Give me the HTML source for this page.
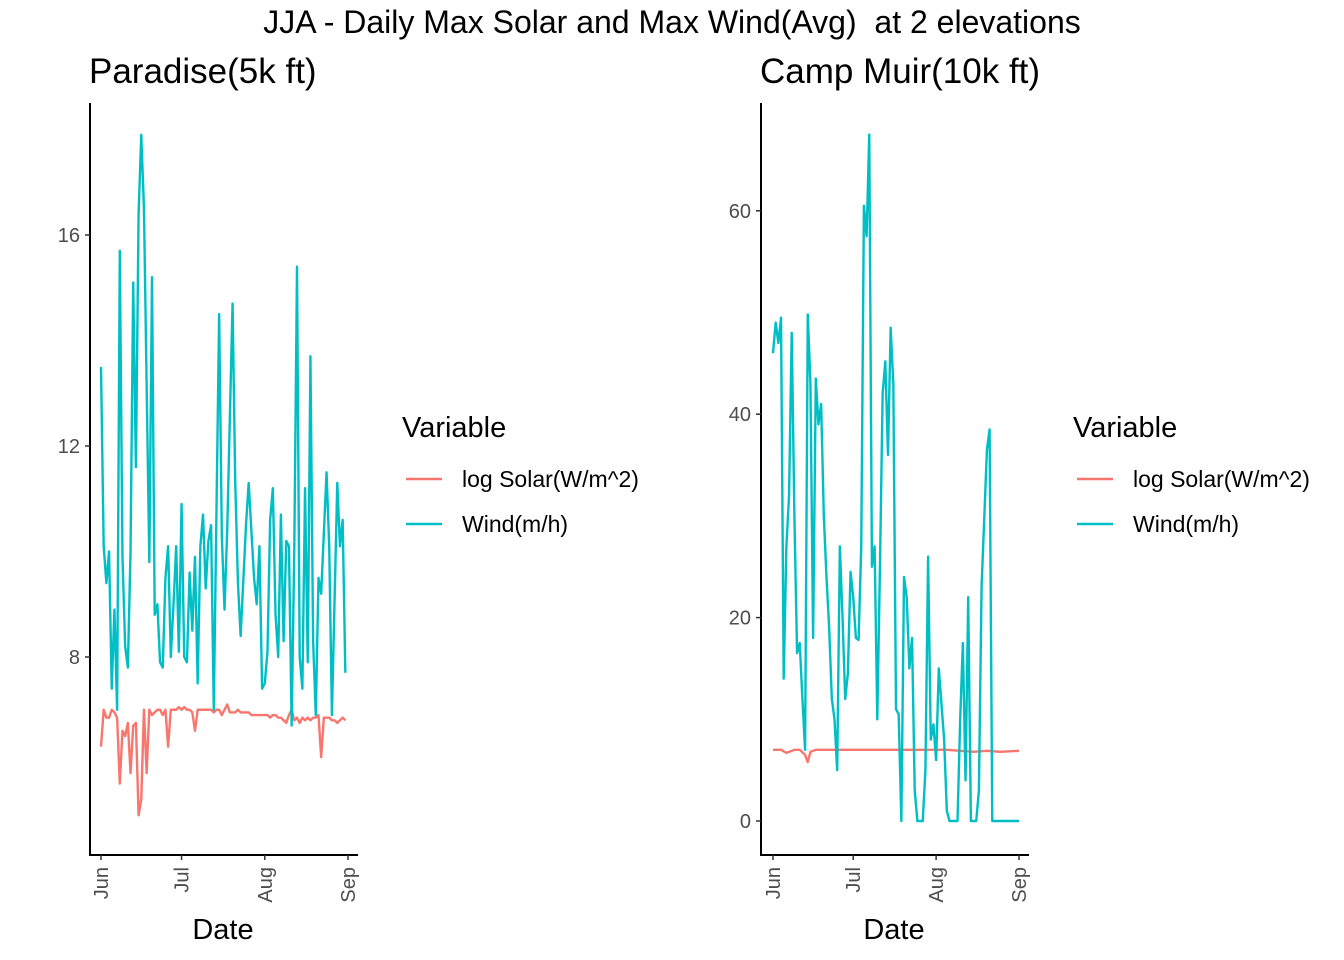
<!DOCTYPE html>
<html><head><meta charset="utf-8"><style>
html,body{margin:0;padding:0;background:#fff;width:1344px;height:960px;overflow:hidden}
svg{font-family:"Liberation Sans",Arial,sans-serif}
</style></head><body>
<svg id="chart" width="1344" height="960">
<text x="672" y="33" font-size="32" text-anchor="middle" fill="#000" style="white-space:pre" xml:space="preserve">JJA - Daily Max Solar and Max Wind(Avg)  at 2 elevations</text>
</svg>
<script>
// Paradise (left) data: day offset from Jun 1
const pWindDays=[0,1,2,3,4,5,6,7,8,9,10,11,12,13,14,15,16,18,19,20,21,22,23,24,25,26,27,28,29,30,31,32,33,34,35,36,37,38,39,40,41,42,44,45,46,47,49,50,51,52,54,55,56,57,58,59,60,61,62,63,64,65,66,67,68,69,70,71,72,73,74,75,76,77,78,79,80,81,82,84,85,86,88,89,90,91];
const pWind=[13.5,10.1,9.4,10.0,7.4,8.9,7.0,15.7,9.9,8.2,7.8,10.0,15.1,11.6,16.4,17.9,16.5,9.8,15.2,8.8,9.0,7.9,7.8,9.5,10.1,8.0,9.0,10.1,8.1,10.9,8.0,7.9,9.6,8.5,9.9,7.5,10.1,10.7,9.3,10.2,10.5,7.0,14.5,10.3,8.9,10.4,14.7,11.3,9.4,8.4,10.5,11.3,10.4,9.5,9.0,10.1,7.4,7.5,8.1,10.6,11.2,8.8,8.0,10.7,8.3,10.2,10.1,6.7,10.1,15.4,8.0,7.4,11.2,7.9,13.7,8.3,6.9,9.5,9.2,11.5,10.1,6.9,11.3,10.1,10.6,7.7];
const pSolarDays=[0,1,2,3,4,5,6,7,8,9,10,11,12,13,14,15,16,17,18,19,20,21,22,23,24,25,26,27,28,29,30,31,32,33,34,35,36,37,38,39,40,41,42,43,44,45,46,47,48,49,50,51,52,53,54,55,56,57,58,59,60,61,62,63,64,65,66,67,68,69,70,71,72,73,74,75,76,77,78,79,80,81,82,83,84,85,86,87,88,89,90,91];
const pSolar=[6.3,7.0,6.85,6.85,7.0,6.95,6.85,5.6,6.6,6.5,6.75,5.8,6.7,6.75,5.0,5.3,7.0,5.8,7.0,6.9,6.95,7.0,7.0,6.9,7.0,6.3,7.0,7.0,7.0,7.05,7.0,7.05,7.0,7.0,6.95,6.6,7.0,7.0,7.0,7.0,7.0,7.0,6.95,7.0,7.0,6.9,7.0,7.1,6.95,6.95,6.95,7.0,6.95,6.95,6.95,6.95,6.9,6.9,6.9,6.9,6.9,6.9,6.9,6.85,6.9,6.9,6.85,6.85,6.8,6.75,6.9,7.0,6.8,6.85,6.75,6.85,6.8,6.85,6.8,6.85,6.85,6.9,6.1,6.85,6.85,6.85,6.8,6.8,6.75,6.8,6.85,6.8];
// Camp Muir (right)
const mWindDays=[0,1,2,3,4,5,6,7,8,9,10,11,12,13,14,15,16,17,18,19,20,21,22,23,24,25,26,27,28,29,30,31,32,33,34,35,36,37,38,39,40,41,42,43,44,45,46,47,48,49,50,51,52,53,54,55,56,57,58,59,60,61,62,64,65,66,67,68,69,70,71,72,73,74,75,76,77,78,80,81,82,83,84,85,86,87,88,89,90,91,92];
const mWind=[46,49,47,49.5,14,27,32,48,30,16.5,17.5,12,7,49.8,43,18,43.5,39,41,30,24,19,12,10,5,27,20,12,14.5,24.5,22,18,17.8,27,60.5,57.5,67.5,25,27,10,25,42,45.2,36,48.5,43,11,10.5,0,24,22,15,18,3,0,0,0,5,26,8,9.5,6,15,8,1,0,0,0,0,10,17.5,4,22,0,0,0,3,23,36.5,38.5,0,0,0,0,0,0,0,0,0,0,0];
const mSolarDays=[0,3,5,8,10,12,13,14,16,20,30,40,50,60,65,70,75,80,85,92];
const mSolar=[7.0,7.0,6.7,7.0,7.0,6.5,5.8,6.8,7.0,7.0,7.0,7.0,7.0,7.0,7.0,6.9,6.8,6.9,6.8,6.9];
const yTicksP=[8,12,16];
const yTicksM=[0,20,40,60];
const xTickDays=[0,30,61,92];
const xTickLabels=["Jun","Jul","Aug","Sep"];
const legendLabels=["log Solar(W/m^2)","Wind(m/h)"];
const colors=["#F8766D","#00BFC4"];

const NS="http://www.w3.org/2000/svg";
const svg=document.getElementById('chart');
function mk(tag,attrs,parent){const e=document.createElementNS(NS,tag);for(const k in attrs)e.setAttribute(k,attrs[k]);(parent||svg).appendChild(e);return e;}

function panel(cfg){
  const g=mk('g',{});
  
  
  const xs=d=>cfg.x0+d*cfg.dx;
  const ys=v=>cfg.yRef-(v-cfg.vRef)*cfg.dy;
  const t=mk('text',{x:cfg.axX-1,y:83,'font-size':35,fill:'#000'},g);t.textContent=cfg.title;
  
  
  const ya=mk('line',{x1:cfg.axX,y1:103,x2:cfg.axX,y2:856,stroke:'#000','stroke-width':2},g);
  
  
  const xa=mk('line',{x1:cfg.axX-1,y1:855,x2:cfg.axX+268,y2:855,stroke:'#000','stroke-width':2},g);
  
  
  cfg.yTicks.forEach(v=>{
    const y=ys(v);
    mk('line',{x1:cfg.axX-5,y1:y,x2:cfg.axX,y2:y,stroke:'#333','stroke-width':1.5},g);
    const l=mk('text',{x:cfg.axX-10,y:y+7,'font-size':20,fill:'#4d4d4d','text-anchor':'end'},g);
    l.textContent=v;
    
    
  });
  xTickDays.forEach((d,i)=>{
    const x=xs(d);
    mk('line',{x1:x,y1:855,x2:x,y2:860,stroke:'#333','stroke-width':1.5},g);
    const l=mk('text',{x:0,y:0,'font-size':20,fill:'#4d4d4d','text-anchor':'end',transform:`translate(${x+7},867) rotate(-90)`},g);
    l.textContent=xTickLabels[i];
    
    
  });
  const xt=mk('text',{x:cfg.axX+133,y:939,'font-size':29,'text-anchor':'middle',fill:'#000'},g);
  xt.textContent='Date';
  
  
  const line=(days,vals,col,name)=>{
    const p=mk('polyline',{points:days.map((d,i)=>xs(d)+','+ys(vals[i])).join(' '),fill:'none',stroke:col,'stroke-width':2.4,'stroke-linejoin':'round'},g);
    
    
  };
  line(cfg.sDays,cfg.sVals,colors[0],'solar-line');
  line(cfg.wDays,cfg.wVals,colors[1],'wind-line');
  const lx=cfg.axX+312;
  const lt=mk('text',{x:lx,y:437,'font-size':29,fill:'#000'},g);
  lt.textContent='Variable';
  
  
  legendLabels.forEach((lab,i)=>{
    const y=479+i*45;
    const le=mk('g',{},g);
    
    
    mk('line',{x1:lx+4,y1:y,x2:lx+40,y2:y,stroke:colors[i],'stroke-width':2.4},le);
    const tt=mk('text',{x:lx+60,y:y+8,'font-size':23,fill:'#000'},le);tt.textContent=lab;
  });
}
panel({name:'paradise-panel',title:'Paradise(5k ft)',axX:90,x0:101,dx:2.685,yRef:446,vRef:12,dy:52.75,yTicks:yTicksP,sDays:pSolarDays,sVals:pSolar,wDays:pWindDays,wVals:pWind});
panel({name:'camp-muir-panel',title:'Camp Muir(10k ft)',axX:761,x0:773,dx:2.674,yRef:821,vRef:0,dy:10.17,yTicks:yTicksM,sDays:mSolarDays,sVals:mSolar,wDays:mWindDays,wVals:mWind});
</script>
</body></html>
